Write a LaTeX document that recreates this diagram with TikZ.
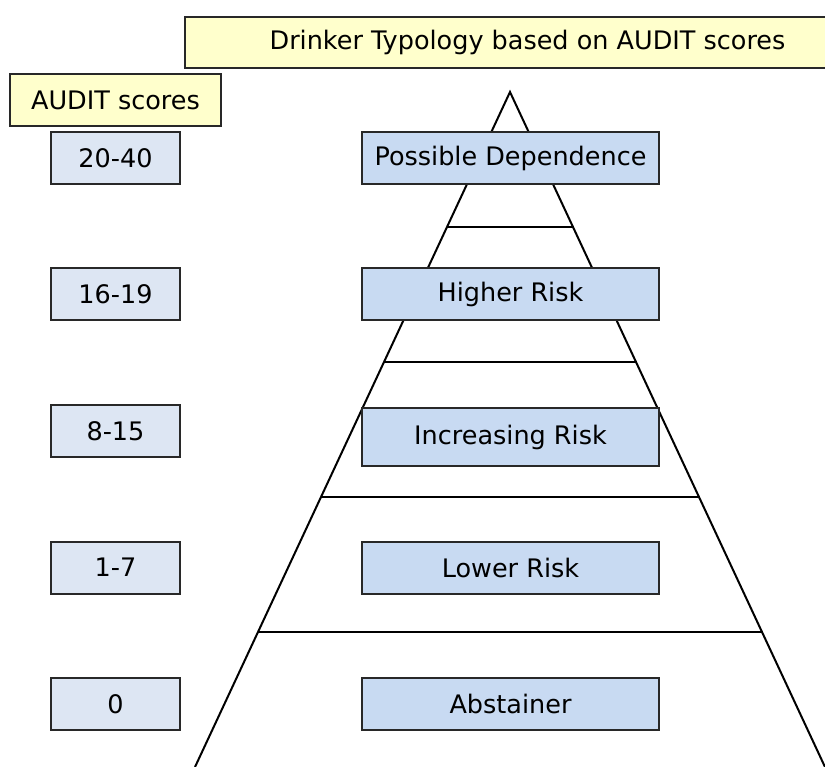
\documentclass[tikz,border=0pt]{standalone}
\usepackage{fontspec}
\setmainfont{DejaVu Sans}
\usetikzlibrary{positioning,calc}
\definecolor{headyellow}{RGB}{255,255,204}
\definecolor{scoreblue}{RGB}{221,230,243}
\definecolor{typeblue}{RGB}{200,218,242}
\definecolor{edgegrey}{RGB}{40,40,40}
\begin{document}
\begin{tikzpicture}[x=1pt,y=-1pt,font=\fontsize{25.5}{30}\selectfont,node distance=84.5pt,
   box/.style={draw=edgegrey,line width=2pt,inner sep=0pt,outer sep=0pt,minimum height=52pt,align=center},
   headbox/.style={box,fill=headyellow},
   scorebox/.style={box,fill=scoreblue,minimum width=129pt},
   typebox/.style={box,fill=typeblue,minimum width=297pt}]
  \useasboundingbox (0,0) rectangle (825,767);
  \clip (0,0) rectangle (825,767);
  % pyramid behind the boxes
  \coordinate (apex) at (510,92);
  \coordinate (bl) at (195,767);
  \coordinate (br) at (825,767);
  \draw[line width=2pt,line join=miter] (bl) -- (apex) -- (br);
  \foreach \t in {0.2,0.4,0.6,0.8}
    \draw[line width=2pt] ($(apex)!\t!(bl)$) -- ($(apex)!\t!(br)$);
  % headers
  \node[headbox,minimum width=685pt,minimum height=51pt] (title) at (527.5,42.5) {Drinker Typology based on AUDIT scores};
  \node[headbox,minimum width=211pt] (scores) at (115.5,100) {AUDIT scores};
  % score column
  \node[scorebox,below=6pt of scores] (s1) {20-40};
  \node[scorebox,below=of s1] (s2) {16-19};
  \node[scorebox,below=of s2] (s3) {8-15};
  \node[scorebox,below=of s3] (s4) {1-7};
  \node[scorebox,below=of s4] (s5) {0};
  % drinker types
  \node[typebox,right=182pt of s1] (dep) {Possible Dependence};
  \node[typebox,right=182pt of s2] (high) {Higher Risk};
  \node[typebox,right=182pt of s3,minimum height=58pt,yshift=-6pt] (incr) {Increasing Risk};
  \node[typebox,right=182pt of s4] (low) {Lower Risk};
  \node[typebox,right=182pt of s5] (abst) {Abstainer};
\end{tikzpicture}
\end{document}
